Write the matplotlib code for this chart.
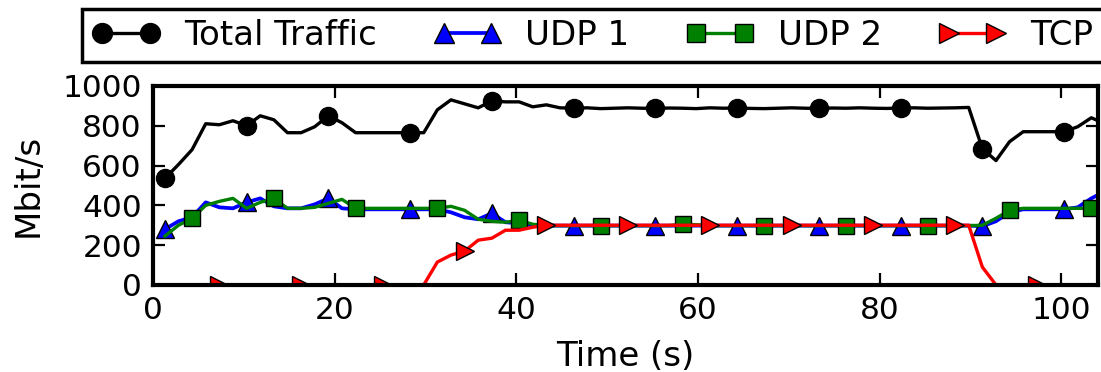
import numpy as np
import matplotlib
matplotlib.use("Agg")
import matplotlib.pyplot as plt

# sample times (s), one sample every 1.5 s
time_s = 1.3 + 1.5 * np.arange(70)

total_traffic = [535, 605, 680, 810, 805, 825, 800, 850, 830, 765,
                 765, 795, 850, 815, 765, 765, 765, 765, 765, 765,
                 880, 930, 910, 890, 925, 920, 920, 895, 905, 890,
                 888, 890, 886, 888, 890, 888, 887, 889, 888, 886,
                 890, 888, 889, 887, 886, 888, 890, 888, 887, 889,
                 888, 890, 888, 887, 889, 890, 888, 889, 890, 892,
                 685, 625, 720, 770, 770, 770, 770, 795, 840, 810]

udp1 = [280, 320, 340, 415, 390, 385, 415, 435, 395, 385,
        385, 405, 435, 385, 380, 380, 380, 380, 380, 380,
        380, 365, 340, 330, 360, 315, 310, 300, 298, 298,
        298, 298, 298, 298, 298, 298, 298, 298, 298, 298,
        298, 298, 298, 298, 298, 298, 298, 298, 298, 298,
        298, 298, 298, 298, 298, 298, 298, 298, 298, 298,
        295, 320, 365, 380, 380, 380, 380, 390, 435, 470]

udp2 = [245, 300, 335, 400, 420, 435, 385, 415, 435, 385,
        385, 390, 410, 430, 385, 385, 385, 385, 385, 385,
        385, 395, 375, 330, 320, 315, 325, 305, 298, 298,
        298, 298, 298, 298, 298, 298, 298, 298, 305, 303,
        298, 298, 298, 298, 298, 298, 298, 298, 298, 298,
        298, 298, 298, 298, 298, 298, 298, 298, 298, 298,
        300, 335, 375, 385, 385, 385, 385, 385, 385, 385]

tcp = [0, 0, 0, 0, 0, 0, 0, 0, 0, 0,
       0, 0, 0, 0, 0, 0, 0, 0, 0, 0,
       115, 150, 170, 225, 235, 275, 275, 290, 300, 300,
       300, 300, 300, 300, 300, 300, 300, 300, 300, 300,
       300, 300, 300, 300, 300, 300, 300, 300, 300, 300,
       300, 300, 300, 300, 300, 300, 300, 300, 300, 300,
       90, 0, 0, 0, 0, 0, 0, 0, 0, 0]

plt.rcParams['font.family'] = ['DejaVu Sans']
plt.rcParams['font.size'] = 24.5

fig = plt.figure(figsize=(11.01, 3.72), dpi=100)
ax = fig.add_axes([0.139, 0.234, 0.858, 0.535])

ax.plot(time_s, total_traffic, color='black', lw=2.4, marker='o', ms=13,
        mec='black', mew=1, markevery=(0, 6), label='Total Traffic')
ax.plot(time_s, udp1, color='blue', lw=2.7, marker='^', ms=13,
        mec='black', mew=1, markevery=(0, 6), label='UDP 1')
ax.plot(time_s, udp2, color='green', lw=2.4, marker='s', ms=12,
        mec='black', mew=1, markevery=(2, 6), label='UDP 2')
ax.plot(time_s, tcp, color='red', lw=2.4, marker='>', ms=13,
        mec='black', mew=1, markevery=(4, 6), label='TCP')

ax.set_xlim(0, 104)
ax.set_ylim(0, 1000)
ax.set_xticks([0, 20, 40, 60, 80, 100])
ax.set_yticks([0, 200, 400, 600, 800, 1000])
ax.set_xlabel('Time (s)', labelpad=11)
ax.set_ylabel('Mbit/s', labelpad=13)

for sp in ax.spines.values():
    sp.set_linewidth(3)
ax.tick_params(direction='in', length=8.5, width=1.6, top=True, right=True,
               pad=8, labelsize=22.5)

leg = fig.legend(loc='lower left', bbox_to_anchor=(0.0745, 0.8333), ncol=4,
                 numpoints=2, handlelength=2.0, handletextpad=0.7,
                 columnspacing=1.66, borderpad=0.3, borderaxespad=0,
                 fancybox=False, framealpha=1, edgecolor='black', fontsize=24.5,
                 markerscale=1.1)
leg.get_frame().set_linewidth(2.5)

fig.savefig('out.png', dpi=100)
